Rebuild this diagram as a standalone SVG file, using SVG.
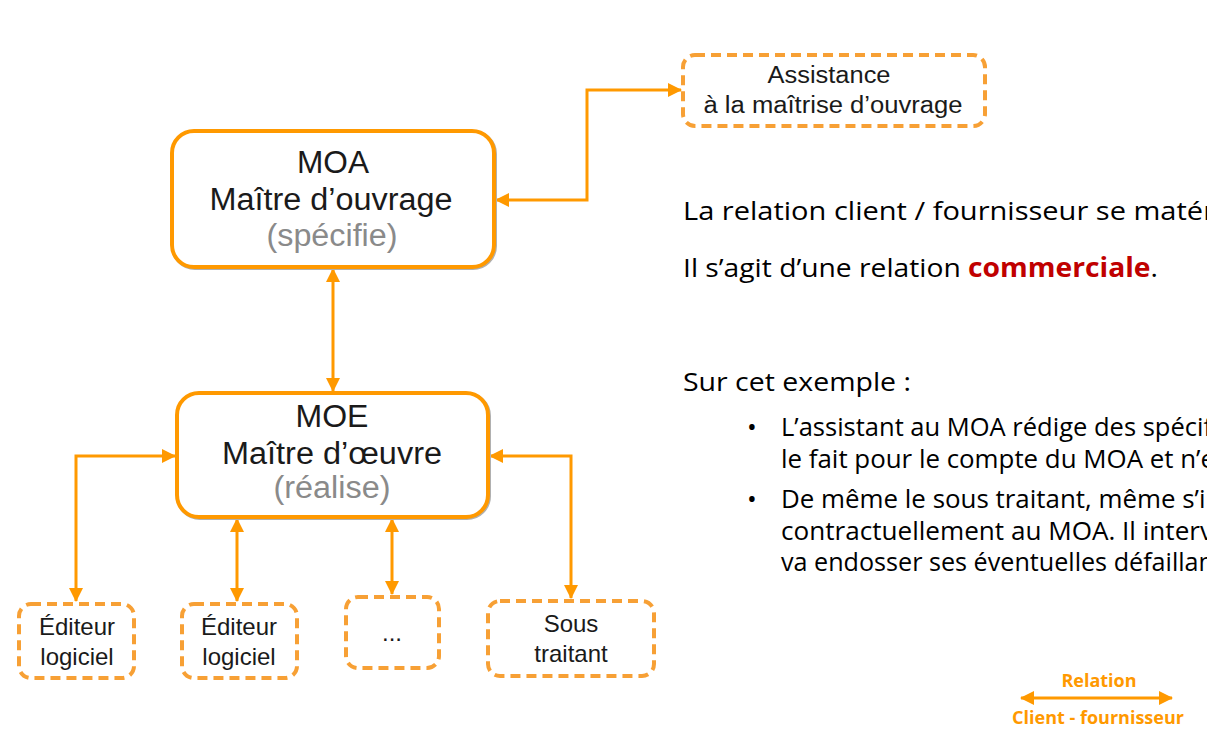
<svg xmlns="http://www.w3.org/2000/svg" width="1207" height="740" viewBox="0 0 1207 740">
<defs>
<marker id="ah" viewBox="0 0 14 14" refX="13" refY="7" markerWidth="14" markerHeight="14" markerUnits="userSpaceOnUse" orient="auto-start-reverse">
<path d="M0,0 L14,7 L0,14 z" fill="#FF9900"/>
</marker>
</defs>
<style>
.solid{fill:#fff;stroke:#FF9900;stroke-width:4}
.shadow{fill:none;stroke:#b0b0b0;stroke-width:4}
.dash{fill:#fff;stroke:#F7A035;stroke-width:4;stroke-dasharray:10 6}
.n{font-family:"Liberation Sans",Arial,sans-serif;fill:#1a1a1a;text-anchor:middle}
.g{fill:#8a8a8a}
.c{fill:none;stroke:#FF9900;stroke-width:3;marker-start:url(#ah);marker-end:url(#ah)}
.t{font-family:"Open Sans","Noto Sans",sans-serif;font-size:26px;fill:#000}
.lg{font-family:"Open Sans","Noto Sans",sans-serif;font-size:18px;font-weight:bold;fill:#FF9900;text-anchor:middle}
</style>
<rect width="1207" height="740" fill="#fff"/>

<g id="connectors">
<path class="c" d="M496,200 H587 V90 H681"/>
<path class="c" d="M333,269 V391"/>
<path class="c" d="M175,456 H76 V601"/>
<path class="c" d="M237,519 V601"/>
<path class="c" d="M392,519 V594"/>
<path class="c" d="M490,456 H571 V598"/>
</g>

<g id="moa">
<rect class="shadow" x="173" y="132" width="322" height="136" rx="22"/>
<rect class="solid" x="172" y="131" width="322" height="136" rx="22"/>
<text class="n" x="333" y="173" font-size="31" textLength="72" lengthAdjust="spacingAndGlyphs">MOA</text>
<text class="n" x="331" y="210" font-size="31" textLength="243" lengthAdjust="spacingAndGlyphs">Maître d’ouvrage</text>
<text class="n g" x="332" y="246" font-size="31" textLength="131" lengthAdjust="spacingAndGlyphs">(spécifie)</text>
</g>

<g id="moe">
<rect class="shadow" x="178" y="394" width="311" height="124" rx="22"/>
<rect class="solid" x="177" y="393" width="311" height="124" rx="22"/>
<text class="n" x="332" y="427" font-size="31" textLength="73" lengthAdjust="spacingAndGlyphs">MOE</text>
<text class="n" x="332" y="464" font-size="31" textLength="220" lengthAdjust="spacingAndGlyphs">Maître d’œuvre</text>
<text class="n g" x="332" y="498" font-size="31" textLength="117" lengthAdjust="spacingAndGlyphs">(réalise)</text>
</g>

<g id="amoa">
<rect class="dash" x="683" y="55" width="302" height="71" rx="12"/>
<text class="n" x="829" y="83" font-size="23" textLength="123" lengthAdjust="spacingAndGlyphs">Assistance</text>
<text class="n" x="833" y="113" font-size="23" textLength="259" lengthAdjust="spacingAndGlyphs">à la maîtrise d’ouvrage</text>
</g>

<g id="editeur1">
<rect class="dash" x="19" y="604" width="115" height="74" rx="12"/>
<text class="n" x="77" y="635" font-size="24">Éditeur</text>
<text class="n" x="77" y="665" font-size="24">logiciel</text>
</g>

<g id="editeur2">
<rect class="dash" x="182" y="604" width="115" height="74" rx="12"/>
<text class="n" x="239" y="635" font-size="24">Éditeur</text>
<text class="n" x="239" y="665" font-size="24">logiciel</text>
</g>

<g id="etc">
<rect class="dash" x="346" y="597" width="93" height="71" rx="12"/>
<text class="n" x="392" y="641" font-size="24">...</text>
</g>

<g id="soustraitant">
<rect class="dash" x="488" y="601" width="166" height="75" rx="12"/>
<text class="n" x="571" y="632" font-size="24">Sous</text>
<text class="n" x="571" y="662" font-size="24">traitant</text>
</g>

<g id="texte">
<text class="t" x="683" y="220" textLength="532" lengthAdjust="spacingAndGlyphs">La relation client / fournisseur se matér</text>
<text class="t" x="683" y="277" textLength="475" lengthAdjust="spacingAndGlyphs">Il s’agit d’une relation <tspan fill="#C00000" font-weight="bold">commerciale</tspan>.</text>
<text class="t" x="683" y="391" textLength="228" lengthAdjust="spacingAndGlyphs">Sur cet exemple :</text>
<text class="t" x="747" y="436">•</text>
<text class="t" x="781" y="436" textLength="431" lengthAdjust="spacingAndGlyphs">L’assistant au MOA rédige des spécif</text>
<text class="t" x="781" y="468" textLength="434" lengthAdjust="spacingAndGlyphs">le fait pour le compte du MOA et n’e</text>
<text class="t" x="747" y="508">•</text>
<text class="t" x="781" y="508" textLength="431" lengthAdjust="spacingAndGlyphs">De même le sous traitant, même s’il</text>
<text class="t" x="781" y="540" textLength="432" lengthAdjust="spacingAndGlyphs">contractuellement au MOA. Il interv</text>
<text class="t" x="781" y="571" textLength="433" lengthAdjust="spacingAndGlyphs">va endosser ses éventuelles défaillan</text>
</g>

<g id="legende">
<path class="c" d="M1021,698 H1172"/>
<text class="lg" x="1099" y="687">Relation</text>
<text class="lg" x="1098" y="724">Client - fournisseur</text>
</g>
</svg>
